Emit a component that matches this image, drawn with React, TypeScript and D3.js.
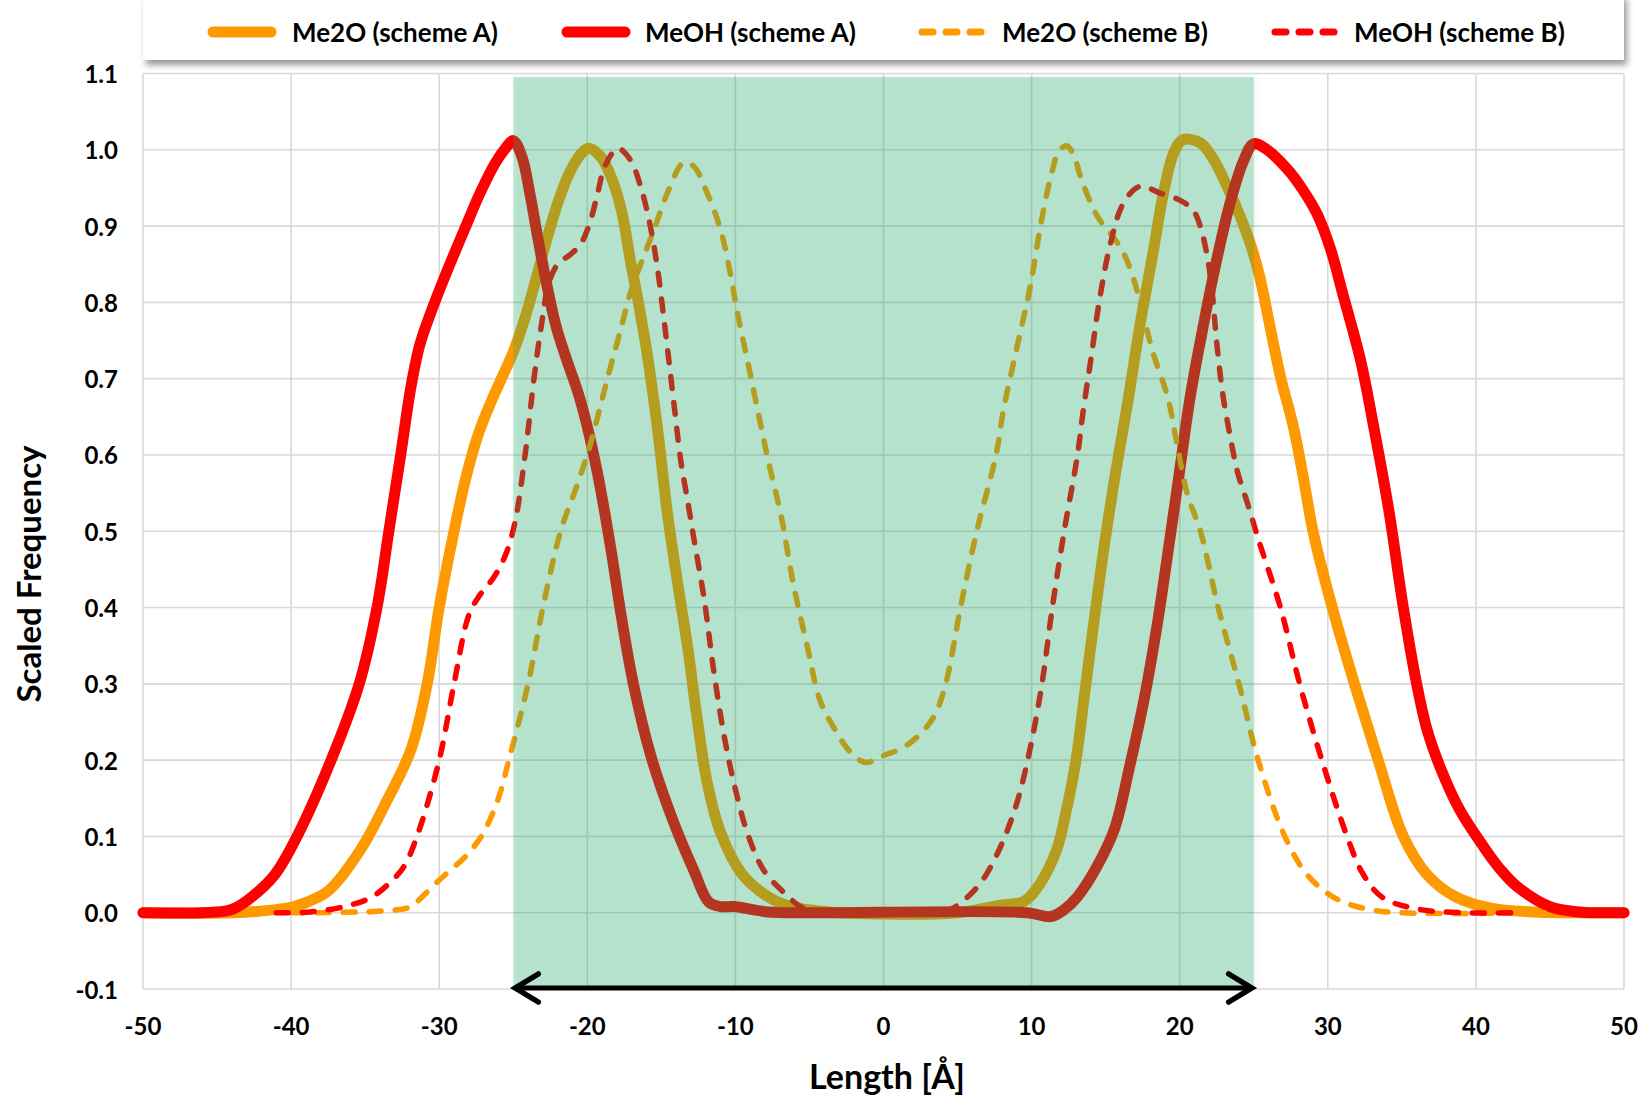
import React from 'react';
import * as d3 from 'd3';

const xTicks = [-50, -40, -30, -20, -10, 0, 10, 20, 30, 40, 50];
const yTicks = [-0.1, 0, 0.1, 0.2, 0.3, 0.4, 0.5, 0.6, 0.7, 0.8, 0.9, 1.0, 1.1];
const yTickLabels = ['-0.1', '0.0', '0.1', '0.2', '0.3', '0.4', '0.5', '0.6', '0.7', '0.8', '0.9', '1.0', '1.1'];

const me2oSchemeA: [number, number][] = [
  [-50, 0], [-44, 0], [-41, 0.004], [-39.8, 0.008], [-38.2, 0.02], [-37.4, 0.03], [-35.3, 0.083],
  [-33.5, 0.148], [-31.9, 0.214], [-30.8, 0.301], [-30, 0.4], [-29, 0.5], [-28.2, 0.57], [-27.4, 0.625],
  [-26.6, 0.665], [-25.8, 0.7], [-25, 0.735], [-24.2, 0.78], [-23.4, 0.835], [-22.7, 0.885],
  [-22, 0.93], [-21.2, 0.97], [-20.4, 0.995], [-19.9, 1.002], [-19.1, 0.991], [-18.4, 0.965],
  [-17.7, 0.921], [-17.1, 0.856], [-16.6, 0.805], [-15.9, 0.725], [-15.2, 0.625], [-14.6, 0.525],
  [-13.9, 0.432], [-13.2, 0.345], [-12.6, 0.257], [-11.9, 0.17], [-11, 0.105], [-9.6, 0.052],
  [-7.8, 0.021], [-6.3, 0.008], [-5.1, 0.004], [-3, 0], [5, 0], [7.9, 0.01], [9.5, 0.015],
  [10.6, 0.039], [11.7, 0.083], [12.3, 0.13], [13, 0.2], [13.6, 0.29], [14.2, 0.38], [14.9, 0.48],
  [15.7, 0.58], [16.5, 0.67], [17.3, 0.768], [18.2, 0.865], [18.9, 0.943], [19.6, 0.996], [20.2, 1.013],
  [21.4, 1.009], [22.3, 0.987], [23.2, 0.952], [24.1, 0.912], [24.8, 0.875], [25.4, 0.834], [26.1, 0.768],
  [26.8, 0.703], [27.7, 0.635], [28.4, 0.565], [29, 0.5], [30.3, 0.4], [31.8, 0.3], [33.4, 0.2],
  [35.1, 0.1], [36.7, 0.05], [38.7, 0.02], [41, 0.006], [44, 0.001], [50, 0],
];

const meohSchemeA: [number, number][] = [
  [-50, 0], [-46, 0], [-44.5, 0.002], [-43.9, 0.005], [-42.7, 0.02], [-41.1, 0.05], [-39.6, 0.1],
  [-37.3, 0.2], [-35.4, 0.3], [-34.2, 0.4], [-33.4, 0.5], [-32.6, 0.6], [-31.9, 0.69], [-31.3, 0.745],
  [-30.5, 0.79], [-29.7, 0.83], [-28.2, 0.9], [-27.2, 0.945], [-26.2, 0.983], [-25.6, 1.0], [-25, 1.012],
  [-24.4, 0.99], [-23.9, 0.945], [-23.3, 0.88], [-22.7, 0.82], [-22.1, 0.768], [-21.4, 0.725],
  [-20.6, 0.68], [-20, 0.637], [-19.3, 0.575], [-18.4, 0.476], [-17.7, 0.388], [-16.9, 0.301],
  [-15.7, 0.205], [-14.2, 0.12], [-12.8, 0.055], [-11.8, 0.014], [-11, 0.008], [-10.1, 0.008],
  [-7.8, 0.001], [-5, 0], [9.7, 0], [11.3, -0.005], [12.2, 0.004], [13.1, 0.021], [14.4, 0.06],
  [15.6, 0.11], [16.6, 0.19], [17.6, 0.28], [18.5, 0.38], [19.3, 0.485], [20, 0.58], [20.7, 0.675],
  [21.6, 0.77], [22.5, 0.856], [23.4, 0.93], [24.3, 0.985], [25, 1.008], [25.9, 1.0], [27.3, 0.974],
  [28.3, 0.948], [29.3, 0.915], [30.2, 0.869], [31, 0.812], [32.2, 0.725], [33.1, 0.637], [34.1, 0.53],
  [35.1, 0.4], [36, 0.3], [36.7, 0.24], [37.6, 0.19], [38.9, 0.135], [40.5, 0.087], [41.6, 0.058],
  [42.8, 0.034], [45, 0.008], [47, 0.001], [50, 0],
];

const me2oSchemeB: [number, number][] = [
  [-40, 0], [-34.2, 0.002], [-31.9, 0.008], [-31.2, 0.02], [-30.2, 0.039], [-29.3, 0.055], [-28.3, 0.072],
  [-27.6, 0.088], [-27, 0.105], [-26, 0.15], [-25.3, 0.2], [-24, 0.3], [-23, 0.4], [-21.8, 0.5],
  [-20.7, 0.56], [-19.9, 0.607], [-18.6, 0.703], [-17.7, 0.768], [-17.1, 0.812], [-16.4, 0.85],
  [-15.5, 0.895], [-14.6, 0.943], [-13.5, 0.983], [-12.8, 0.978], [-11.9, 0.943], [-11, 0.895],
  [-10.3, 0.834], [-9.9, 0.79], [-9.2, 0.725], [-8.5, 0.659], [-7.8, 0.594], [-6.9, 0.519],
  [-6.1, 0.432], [-5.1, 0.345], [-4.3, 0.279], [-3.4, 0.244], [-2.2, 0.21], [-1.2, 0.197], [0, 0.206],
  [1.2, 0.215], [2.3, 0.231], [3.4, 0.257], [4.2, 0.3], [5.2, 0.4], [6.3, 0.5], [7.6, 0.6], [8.1, 0.659],
  [9, 0.74], [9.9, 0.82], [10.6, 0.9], [11.3, 0.965], [11.9, 1.0], [12.4, 1.005], [12.9, 0.99],
  [13.3, 0.965], [14, 0.93], [14.6, 0.908], [15.5, 0.886], [16.2, 0.865], [16.9, 0.83], [17.5, 0.786],
  [18.2, 0.734], [19.2, 0.675], [19.8, 0.616], [20.5, 0.55], [21.4, 0.5], [22.6, 0.4], [24, 0.3],
  [25.3, 0.2], [27.1, 0.1], [28.6, 0.05], [30.4, 0.02], [32.6, 0.005], [35, 0], [45, 0],
];

const meohSchemeB: [number, number][] = [
  [-41, 0], [-38.7, 0.001], [-36.4, 0.008], [-34.6, 0.02], [-33.3, 0.04], [-32.4, 0.06], [-31.5, 0.1],
  [-30, 0.2], [-29, 0.3], [-28, 0.39], [-27.3, 0.415], [-26.3, 0.44], [-25.5, 0.47], [-24.9, 0.51],
  [-24.2, 0.6], [-23.6, 0.7], [-23.1, 0.77], [-22.6, 0.825], [-22, 0.85], [-21.2, 0.862],
  [-20.5, 0.875], [-19.9, 0.9], [-19.3, 0.943], [-18.9, 0.974], [-18.3, 0.996], [-17.9, 1.002],
  [-17.1, 0.987], [-16.4, 0.952], [-15.8, 0.905], [-15.3, 0.85], [-14.9, 0.79], [-14.5, 0.725],
  [-14.1, 0.659], [-13.7, 0.594], [-13.2, 0.537], [-12.8, 0.49], [-12.1, 0.41], [-11.5, 0.322],
  [-10.8, 0.236], [-10.1, 0.17], [-9.2, 0.105], [-8.1, 0.056], [-6.7, 0.026], [-5.6, 0.008],
  [-4.5, 0.001], [-3, 0], [3.5, 0], [4.5, 0.004], [5.7, 0.021], [6.7, 0.043], [7.5, 0.07], [8.3, 0.105],
  [9.1, 0.15], [9.9, 0.215], [10.7, 0.3], [11.4, 0.4], [12.2, 0.5], [13.1, 0.6], [13.5, 0.66], [14, 0.725],
  [14.6, 0.805], [15.3, 0.875], [16.2, 0.93], [17.3, 0.952], [18.7, 0.943], [20, 0.934], [20.9, 0.921],
  [21.4, 0.899], [21.9, 0.856], [22.2, 0.812], [22.5, 0.747], [22.9, 0.681], [23.4, 0.625],
  [23.9, 0.578], [24.6, 0.535], [25.3, 0.49], [26.8, 0.4], [28.1, 0.3], [29.6, 0.2], [31.3, 0.1],
  [32.4, 0.05], [33.7, 0.02], [36, 0.005], [39, 0], [43, 0],
];

const seriesNames = ['Me2O (scheme A)', 'MeOH (scheme A)', 'Me2O (scheme B)', 'MeOH (scheme B)'];
const seriesData = [me2oSchemeA, meohSchemeA, me2oSchemeB, meohSchemeB];
const seriesColors = ['#FF9900', '#FF0000', '#FF9900', '#FF0000'];
const seriesDashed = [false, false, true, true];

const highlightRange = [-25, 25];
const xTitle = 'Length [Å]';
const yTitle = 'Scaled Frequency';

const W = 1652;
const H = 1107;
const FONT = "Lato, 'Open Sans', sans-serif";

export default function App() {
  const x = d3.scaleLinear().domain([-50, 50]).range([143, 1624]);
  const y = d3.scaleLinear().domain([-0.1, 1.1]).range([989, 73.5]);
  const line = d3
    .line<[number, number]>()
    .x((d) => x(d[0]))
    .y((d) => y(d[1]))
    .curve(d3.curveCatmullRom.alpha(0.5));

  const legendSample = [
    [213, 271],
    [567, 625],
    [922, 983],
    [1275, 1336],
  ];
  const legendText = [292, 645, 1002, 1354];

  const arrowY = y(-0.1) - 1;
  const ax1 = x(highlightRange[0]);
  const ax2 = x(highlightRange[1]);

  return (
    <svg
      width={W}
      height={H}
      style={{ position: 'absolute', left: 0, top: 0, background: '#fff' }}
      fontFamily={FONT}
    >
      <defs>
        <filter id="legendShadow" x="-5%" y="-60%" width="110%" height="220%">
          <feDropShadow dx="3" dy="5" stdDeviation="3" floodColor="#000" floodOpacity="0.4" />
        </filter>
        <filter id="bandShadow" x="-5%" y="-5%" width="110%" height="110%">
          <feDropShadow dx="4" dy="0" stdDeviation="3" floodColor="#000" floodOpacity="0.12" />
        </filter>
      </defs>
      <rect x={0} y={0} width={W} height={H} fill="#fff" />

      {/* gridlines */}
      {xTicks.map((t) => (
        <line key={'gx' + t} x1={x(t)} x2={x(t)} y1={y(1.1)} y2={y(-0.1)} stroke="#d9d9d9" strokeWidth={1.6} />
      ))}
      {yTicks.map((t) => (
        <line key={'gy' + t} x1={x(-50)} x2={x(50)} y1={y(t)} y2={y(t)} stroke="#d9d9d9" strokeWidth={1.6} />
      ))}

      {/* series */}
      {seriesData.map((d, i) => (
        <path
          key={'s' + i}
          d={line(d) || ''}
          fill="none"
          stroke={seriesColors[i]}
          strokeWidth={seriesDashed[i] ? 5.5 : 11}
          strokeDasharray={seriesDashed[i] ? '12 14' : undefined}
          strokeLinecap="round"
          strokeLinejoin="round"
        />
      ))}

      {/* highlighted band */}
      <rect
        x={x(highlightRange[0])}
        y={77}
        width={x(highlightRange[1]) - x(highlightRange[0])}
        height={y(-0.1) - 77}
        fill="#1fa866"
        fillOpacity={0.3}
        filter="url(#bandShadow)"
      />

      {/* double arrow */}
      <line x1={ax1 + 3} x2={ax2 - 3} y1={arrowY} y2={arrowY} stroke="#000" strokeWidth={5} />
      <polyline
        points={`${ax1 + 25},${arrowY - 14} ${ax1 + 2},${arrowY} ${ax1 + 25},${arrowY + 14}`}
        fill="none"
        stroke="#000"
        strokeWidth={5.5}
        strokeLinecap="round"
        strokeLinejoin="miter"
      />
      <polyline
        points={`${ax2 - 25},${arrowY - 14} ${ax2 - 2},${arrowY} ${ax2 - 25},${arrowY + 14}`}
        fill="none"
        stroke="#000"
        strokeWidth={5.5}
        strokeLinecap="round"
        strokeLinejoin="miter"
      />

      {/* y tick labels */}
      {yTicks.map((t, i) => (
        <text
          key={'yl' + t}
          x={118}
          y={y(t)}
          textAnchor="end"
          dominantBaseline="central"
          fontSize={24}
          fontWeight={700}
          fill="#000"
        >
          {yTickLabels[i]}
        </text>
      ))}
      {/* x tick labels */}
      {xTicks.map((t) => (
        <text
          key={'xl' + t}
          x={x(t)}
          y={1025}
          textAnchor="middle"
          dominantBaseline="central"
          fontSize={24}
          fontWeight={700}
          fill="#000"
        >
          {String(t)}
        </text>
      ))}

      {/* axis titles */}
      <text x={887} y={1075} textAnchor="middle" dominantBaseline="central" fontSize={34} fontWeight={700} fill="#000">
        {xTitle}
      </text>
      <text
        transform="translate(28,574) rotate(-90)"
        textAnchor="middle"
        dominantBaseline="central"
        fontSize={33}
        fontWeight={700}
        fill="#000"
      >
        {yTitle}
      </text>

      {/* legend */}
      <rect x={143} y={-6} width={1481} height={66} fill="#fff" filter="url(#legendShadow)" />
      {seriesNames.map((name, i) => (
        <g key={'lg' + i}>
          <line
            x1={legendSample[i][0]}
            x2={legendSample[i][1]}
            y1={32}
            y2={32}
            stroke={seriesColors[i]}
            strokeWidth={seriesDashed[i] ? 7 : 11}
            strokeDasharray={seriesDashed[i] ? '11 13' : undefined}
            strokeLinecap="round"
          />
          <text
            x={legendText[i]}
            y={32}
            dominantBaseline="central"
            fontSize={26}
            fontWeight={700}
            fill="#000"
          >
            {name}
          </text>
        </g>
      ))}
    </svg>
  );
}
